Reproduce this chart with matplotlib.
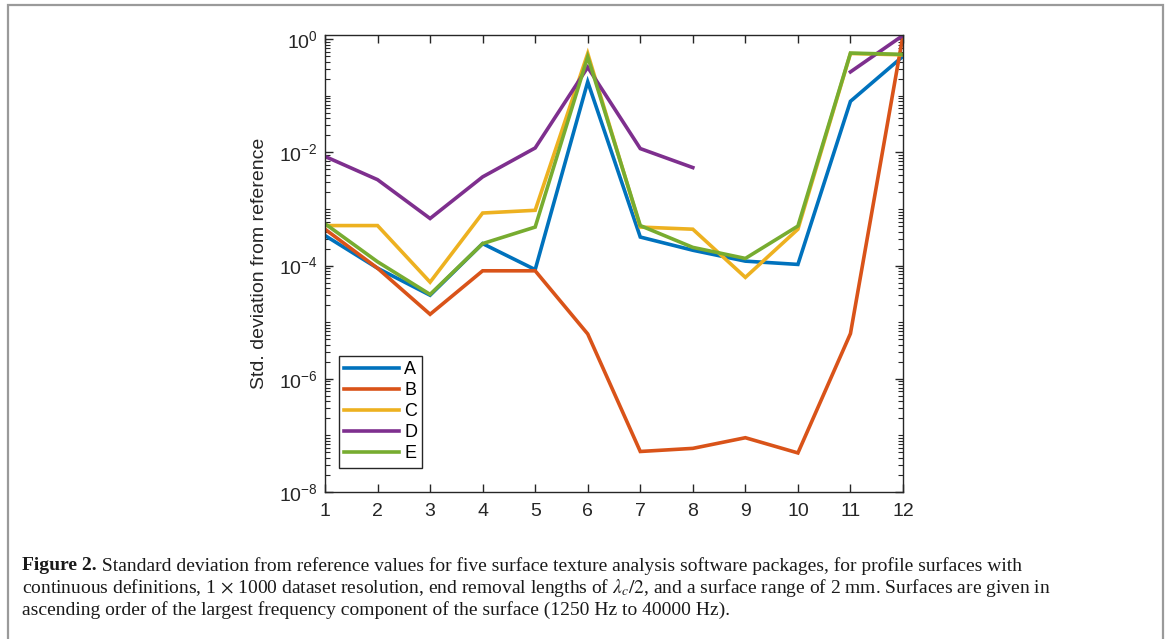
import numpy as np
import matplotlib
matplotlib.use("Agg")
import matplotlib.pyplot as plt
from matplotlib.patches import Rectangle
from matplotlib.ticker import LogLocator, NullFormatter, FixedLocator

surfaces = list(range(1, 13))
series_names = ["A", "B", "C", "D", "E"]
A = [3.4e-4, 9.0e-5, 3.0e-5, 2.45e-4, 8.5e-5, 0.177, 3.2e-4, 1.87e-4, 1.2e-4, 1.05e-4, 0.080, 0.50]
B = [4.4e-4, 9.0e-5, 1.38e-5, 8.1e-5, 8.1e-5, 6.2e-6, 5.2e-8, 5.9e-8, 9.1e-8, 4.9e-8, 6.3e-6, 1.17]
C = [5.1e-4, 5.1e-4, 5.1e-5, 8.5e-4, 9.5e-4, 0.56, 4.8e-4, 4.4e-4, 6.2e-5, 4.4e-4, 0.56, 0.53]
D = [8.5e-3, 3.3e-3, 6.8e-4, 3.7e-3, 1.2e-2, 0.32, 1.17e-2, 5.4e-3, np.nan, np.nan, 0.265, 1.17]
E = [5.5e-4, 1.17e-4, 3.1e-5, 2.45e-4, 4.8e-4, 0.49, 5.1e-4, 2.1e-4, 1.34e-4, 5.0e-4, 0.57, 0.54]
colors = ["#0072BD", "#D95319", "#EDB120", "#7E2F8E", "#77AC30"]
y_tick_values = [1e-8, 1e-6, 1e-4, 1e-2, 1e0]
y_label = "Std. deviation from reference"
caption_lines = [
    [("Figure 2.", "bold"), (" Standard deviation from reference values for five surface texture analysis software packages, for profile surfaces with", "normal")],
    [("continuous definitions, 1 $\\times$ 1000 dataset resolution, end removal lengths of $\\lambda_c/2$, and a surface range of 2 mm. Surfaces are given in", "normal")],
    [("ascending order of the largest frequency component of the surface (1250 Hz to 40000 Hz).", "normal")],
]

plt.rcParams["mathtext.fontset"] = "custom"
plt.rcParams["mathtext.rm"] = "Liberation Sans"
plt.rcParams["mathtext.it"] = "Liberation Serif:italic"
plt.rcParams["mathtext.bf"] = "Liberation Sans:bold"

W, H = 1170, 639
fig = plt.figure(figsize=(W / 100, H / 100), dpi=100)
fig.patch.set_facecolor("white")

# page frame
fig.add_artist(Rectangle((7.5 / W, -0.1), (1163 - 7.5) / W, 1.1 - 5 / H,
                         transform=fig.transFigure, fill=False,
                         edgecolor="#9a9a9a", linewidth=1.6))

ax_l, ax_r, ax_t, ax_b = 325, 903, 35, 492
ax = fig.add_axes([ax_l / W, 1 - ax_b / H, (ax_r - ax_l) / W, (ax_b - ax_t) / H])

sans = ["Liberation Sans", "DejaVu Sans"]
for name, vals, col in zip(series_names, [A, B, C, D, E], colors):
    ax.plot(surfaces, vals, color=col, lw=2.6, label=name, solid_joinstyle="miter")

ax.set_yscale("log")
ax.set_xlim(1, 12)
ax.set_ylim(1e-8, 10 ** 0.075)
ax.set_xticks(surfaces)
ax.yaxis.set_major_locator(FixedLocator(y_tick_values))
ax.yaxis.set_minor_locator(LogLocator(base=10, subs=np.arange(1, 10), numticks=30))
ax.yaxis.set_minor_formatter(NullFormatter())

axcol = "#262626"
for sp in ax.spines.values():
    sp.set_color(axcol)
    sp.set_linewidth(1.0)
ax.tick_params(which="both", direction="in", top=True, right=True, colors=axcol)
ax.tick_params(which="major", length=6, width=1.0, labelsize=14, labelcolor="#262626", pad=5)
ax.tick_params(axis="x", which="major", pad=8)
ax.tick_params(which="minor", length=3.5, width=0.8)
for lab in ax.get_xticklabels() + ax.get_yticklabels():
    lab.set_family(sans)
ax.set_ylabel(y_label, fontsize=14, family=sans, color="#262626")
ax.yaxis.set_label_coords((268 - ax_l) / (ax_r - ax_l), 0.5)

leg = ax.legend(loc="upper left", bbox_to_anchor=((339 - ax_l) / (ax_r - ax_l), (ax_b - 356) / (ax_b - ax_t)),
                borderaxespad=0, fancybox=False, framealpha=1, edgecolor=axcol,
                prop={"family": sans, "size": 13}, handlelength=3.0, handletextpad=0.3,
                labelspacing=0.22, borderpad=0.3)
leg.get_frame().set_linewidth(1.0)

# caption
fig.canvas.draw()
r = fig.canvas.get_renderer()
serif = ["Liberation Serif", "DejaVu Serif"]
fs = 14.0
y0s = [566, 588, 610]
for line, yc in zip(caption_lines, y0s):
    x = 22
    for txt, wgt in line:
        t = fig.text(x / W, 1 - yc / H, txt, fontsize=fs, family=serif, weight=wgt,
                     va="center", ha="left", color="#1a1a1a", math_fontfamily="stix")
        bb = t.get_window_extent(renderer=r)
        x += bb.width

fig.savefig("out.png", dpi=100, facecolor="white")
